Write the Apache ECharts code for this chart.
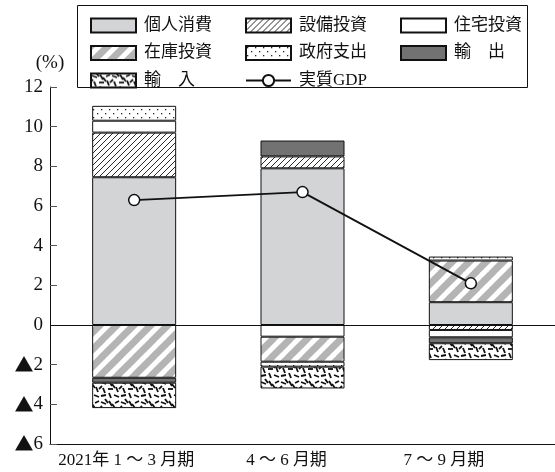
<!DOCTYPE html>
<html><head><meta charset="utf-8">
<script src="https://cdn.jsdelivr.net/npm/echarts@6/dist/echarts.min.js"></script>
<style>html,body{margin:0;padding:0;background:#fff}#c{width:555px;height:472px}</style>
</head><body><div id="c"></div>
<script>
const categories = ['2021年 1 ～ 3 月期', '4 ～ 6 月期', '7 ～ 9 月期'];
const consumption = [7.45, 7.9, 1.15];
const equipment = [2.25, 0.6, -0.25];
const housing = [0.6, -0.59, -0.37];
const inventory = [-2.66, -1.26, 2.1];
const government = [0.75, -0.25, 0.2];
const exportsV = [-0.25, 0.8, -0.3];
const importsV = [-1.28, -1.1, -0.85];
const gdp = [6.3, 6.7, 2.1];
const yTickValues = [-6, -4, -2, 0, 2, 4, 6, 8, 10, 12];
const yTickLabels = ['▲6', '▲4', '▲2', '0', '2', '4', '6', '8', '10', '12'];

const FONT = '"Liberation Serif","DejaVu Serif","Noto Sans CJK JP"';

function tile(w, h, draw) {
  const c = document.createElement('canvas');
  c.width = w; c.height = h;
  const g = c.getContext('2d');
  g.fillStyle = '#fff'; g.fillRect(0, 0, w, h);
  draw(g, w, h);
  return { image: c, repeat: 'repeat' };
}
const hatchPat = tile(6, 6, (g, w, h) => {
  g.strokeStyle = '#111'; g.lineWidth = 0.9;
  for (let k = -1; k <= 1; k++) { g.beginPath(); g.moveTo(k * w, h); g.lineTo(k * w + w, 0); g.stroke(); }
});
const stripePat = tile(17, 17, (g, w, h) => {
  g.strokeStyle = '#b4b4b4'; g.lineWidth = 7;
  for (let k = -1; k <= 1; k++) { g.beginPath(); g.moveTo(k * w - 2, h + 2); g.lineTo(k * w + w + 2, -2); g.stroke(); }
});
const dotPat = tile(8, 8, (g) => {
  g.fillStyle = '#222';
  g.fillRect(1, 1, 1.3, 1.3); g.fillRect(5, 5, 1.3, 1.3);
});
const segs = [[1,2,6,4],[9,1,12,6],[15,3,19,1],[3,8,5,13],[8,9,13,9],[16,7,18,12],[1,16,6,15],[9,13,11,18],[14,15,19,17],[5,19,8,23],[12,4,15,8],[19,9,22,6]];
const noisePat = tile(20, 20, (g) => {
  g.strokeStyle = '#111'; g.lineWidth = 1.8; g.lineCap = 'butt';
  for (const s of segs) for (const dx of [-20, 0, 20]) for (const dy of [-20, 0, 20]) {
    g.beginPath(); g.moveTo(s[0] + dx, s[1] + dy); g.lineTo(s[2] + dx, s[3] + dy); g.stroke();
  }
});

function bar(name, data, color, extra) {
  return Object.assign({
    name, type: 'bar', stack: 'a', data, barWidth: 84,
    itemStyle: { color, borderColor: '#111', borderWidth: 1 },
    emphasis: { disabled: true }
  }, extra || {});
}

const chart = echarts.init(document.getElementById('c'), null, { renderer: 'canvas' });
const legendBase = {
  orient: 'vertical', itemWidth: 45, itemHeight: 14, itemGap: 10.5, top: 12,
  textStyle: { fontFamily: FONT, fontSize: 17, lineHeight: 17, color: '#111', padding: [0, 0, 0, 3] },
  selectedMode: false
};
function items(names) {
  return names.map(n => n === '実質GDP' ? { name: n } : { name: n, icon: 'rect' });
}
chart.setOption({
  animation: false,
  grid: { left: 50, top: 87, width: 508, bottom: 28 },
  legend: [
    Object.assign({}, legendBase, { left: 85, data: items(['個人消費', '在庫投資', '輸　入']) }),
    Object.assign({}, legendBase, { left: 240, data: items(['設備投資', '政府支出', '実質GDP']) }),
    Object.assign({}, legendBase, { left: 395, data: items(['住宅投資', '輸　出']) })
  ],
  graphic: [{ type: 'rect', shape: { x: 77.5, y: 5.5, width: 450, height: 82 }, style: { fill: 'none', stroke: '#111', lineWidth: 1 }, silent: true }],
  xAxis: {
    type: 'category', data: categories,
    axisLine: { onZero: false, lineStyle: { color: '#111', width: 1 } },
    axisTick: { show: false },
    axisLabel: {
      interval: 0, margin: 8, color: '#111', fontFamily: FONT, fontSize: 17,
      formatter: (v, i) => ['{a|', '{b|', '{c|'][i] + v + '}',
      rich: {
        a: { fontFamily: FONT, fontSize: 17, padding: [0, 16, 0, 0] },
        b: { fontFamily: FONT, fontSize: 17, padding: [0, 32, 0, 0] },
        c: { fontFamily: FONT, fontSize: 17, padding: [0, 54, 0, 0] }
      }
    }
  },
  yAxis: {
    type: 'value', min: -6, max: 12, interval: 2,
    name: '(%)', nameLocation: 'end', nameGap: 14,
    nameTextStyle: { fontFamily: FONT, fontSize: 19, color: '#111' },
    axisLine: { show: true, lineStyle: { color: '#111', width: 1 } },
    axisTick: { show: true, inside: true, length: 7, lineStyle: { color: '#555' } },
    splitLine: { show: false },
    axisLabel: {
      margin: 7, color: '#111', fontFamily: FONT, fontSize: 19,
      formatter: v => {
        const s = yTickLabels[yTickValues.indexOf(v)];
        return s.charAt(0) === '▲' ? '{t|▲}{n|' + s.slice(1) + '}' : '{n|' + s + '}';
      },
      rich: {
        t: { fontFamily: '"Noto Sans CJK JP"', fontSize: 19, color: '#111' },
        n: { fontFamily: FONT, fontSize: 19, color: '#111' }
      }
    }
  },
  series: [
    bar('個人消費', consumption, '#d3d4d6', {
      markLine: { silent: true, symbol: 'none', label: { show: false }, lineStyle: { color: '#111', type: 'solid', width: 1 }, data: [{ yAxis: 0 }] }
    }),
    bar('設備投資', equipment, hatchPat),
    bar('住宅投資', housing, '#ffffff'),
    bar('在庫投資', inventory, stripePat),
    bar('政府支出', government, dotPat),
    bar('輸　出', exportsV, '#727272'),
    bar('輸　入', importsV, noisePat),
    {
      name: '実質GDP', type: 'line', data: gdp, z: 10,
      symbol: 'circle', symbolSize: 11,
      lineStyle: { color: '#111', width: 1.8 },
      itemStyle: { color: '#fff', borderColor: '#111', borderWidth: 1.5 },
      emphasis: { disabled: true }
    }
  ]
});
</script></body></html>
